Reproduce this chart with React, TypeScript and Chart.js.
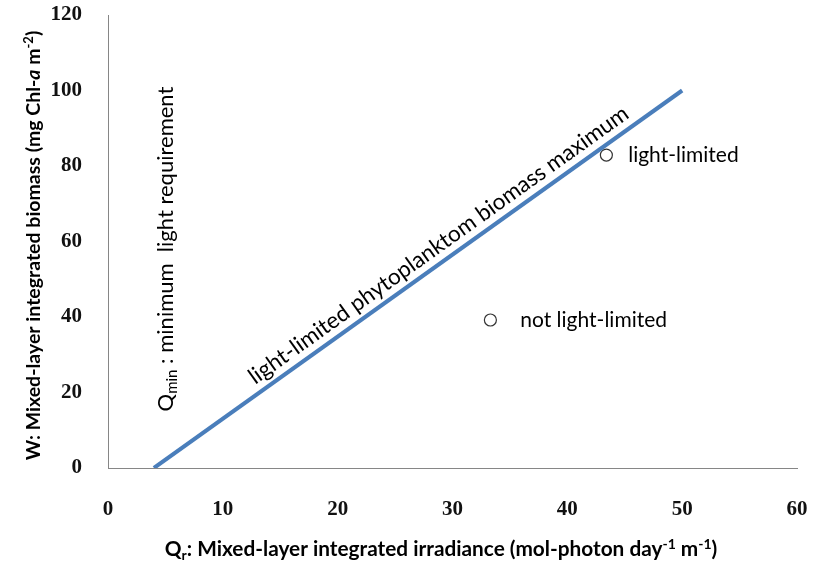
import React, { useEffect, useRef } from "react";
import { Chart, registerables } from "chart.js";

Chart.register(...registerables);

// ---- data ----
const X_TICKS = [0, 10, 20, 30, 40, 50, 60];
const Y_TICKS = [0, 20, 40, 60, 80, 100, 120];
const LINE_X = [4, 50];
const LINE_Y = [0, 100];
const POINT_X = [43.4, 33.3];
const POINT_Y = [82.9, 39.2];
const POINT_LABELS = ["light-limited", "not light-limited"];
const POINT_LABEL_X = [45.3, 35.9];
const POINT_LABEL_Y = [82.9, 39.2];
const LINE_LABEL = "light-limited phytoplanktom biomass maximum";
const LINE_LABEL_POS = [28.8, 59];
const QMIN_TEXT = ["Q", "min", " : minimum  light requirement"];
const QMIN_POS = [4.95, 58];

const BLUE = "#4a7ebb";
const AXIS = "#868686";
const SANS = "Lato, 'Open Sans', sans-serif";
const SERIF = "'Liberation Serif', serif";

type Run = { t: string; font: string; dy?: number };

function drawRuns(ctx: CanvasRenderingContext2D, runs: Run[], cx: number, cy: number, rot: number, baseOff: number) {
  ctx.save();
  let w = 0;
  for (const r of runs) {
    ctx.font = r.font;
    w += ctx.measureText(r.t).width;
  }
  ctx.translate(cx, cy);
  ctx.rotate(rot);
  ctx.textBaseline = "alphabetic";
  ctx.textAlign = "left";
  ctx.fillStyle = "#000";
  let x = -w / 2;
  for (const r of runs) {
    ctx.font = r.font;
    ctx.fillText(r.t, x, baseOff + (r.dy || 0));
    x += ctx.measureText(r.t).width;
  }
  ctx.restore();
}

const annotations = {
  id: "annotations",
  afterDatasetsDraw(chart: any) {
    const ctx: CanvasRenderingContext2D = chart.ctx;
    const xs = chart.scales.x;
    const ys = chart.scales.y;
    const area = chart.chartArea;

    // point labels
    ctx.save();
    ctx.font = `21px ${SANS}`;
    ctx.fillStyle = "#000";
    ctx.textAlign = "left";
    ctx.textBaseline = "middle";
    POINT_LABELS.forEach((t, i) => {
      ctx.fillText(t, xs.getPixelForValue(POINT_LABEL_X[i]), ys.getPixelForValue(POINT_LABEL_Y[i]));
    });
    ctx.restore();

    // line label, rotated to the line's angle
    const x0 = xs.getPixelForValue(LINE_X[0]);
    const y0 = ys.getPixelForValue(LINE_Y[0]);
    const x1 = xs.getPixelForValue(LINE_X[1]);
    const y1 = ys.getPixelForValue(LINE_Y[1]);
    const ang = Math.atan2(y1 - y0, x1 - x0);
    drawRuns(
      ctx,
      [{ t: LINE_LABEL, font: `22.5px ${SANS}` }],
      xs.getPixelForValue(LINE_LABEL_POS[0]),
      ys.getPixelForValue(LINE_LABEL_POS[1]),
      ang,
      7
    );

    // Qmin label
    drawRuns(
      ctx,
      [
        { t: QMIN_TEXT[0], font: `22px ${SANS}` },
        { t: QMIN_TEXT[1], font: `15px ${SANS}`, dy: 4 },
        { t: QMIN_TEXT[2], font: `22px ${SANS}` },
      ],
      xs.getPixelForValue(QMIN_POS[0]),
      ys.getPixelForValue(QMIN_POS[1]),
      -Math.PI / 2,
      8
    );

    // axis titles
    drawRuns(
      ctx,
      [
        { t: "W: Mixed-layer integrated biomass (mg Chl-", font: `bold 19.5px ${SANS}` },
        { t: "a", font: `italic bold 19.5px ${SANS}` },
        { t: " m", font: `bold 19.5px ${SANS}` },
        { t: "-2", font: `bold 13px ${SANS}`, dy: -7 },
        { t: ")", font: `bold 19.5px ${SANS}` },
      ],
      33,
      (area.top + area.bottom) / 2 + 4,
      -Math.PI / 2,
      7
    );
    const B = `bold 20.8px ${SANS}`;
    const BS = `bold 14px ${SANS}`;
    drawRuns(
      ctx,
      [
        { t: "Q", font: B },
        { t: "r", font: BS, dy: 4 },
        { t: ": Mixed-layer integrated irradiance (mol-photon day", font: B },
        { t: "-1", font: BS, dy: -7 },
        { t: " m", font: B },
        { t: "-1", font: BS, dy: -7 },
        { t: ")", font: B },
      ],
      441,
      549,
      0,
      7
    );
  },
};

export default function App() {
  const ref = useRef<HTMLCanvasElement | null>(null);
  useEffect(() => {
    if (!ref.current) return;
    const chart = new Chart(ref.current, {
      type: "scatter",
      data: {
        datasets: [
          {
            label: "max",
            data: LINE_X.map((x, i) => ({ x, y: LINE_Y[i] })),
            showLine: true,
            borderColor: BLUE,
            borderWidth: 4,
            pointRadius: 0,
            fill: false,
          },
          {
            label: "obs",
            data: POINT_X.map((x, i) => ({ x, y: POINT_Y[i] })),
            showLine: false,
            pointStyle: "circle",
            pointRadius: 6,
            backgroundColor: "#ffffff",
            borderColor: "#333333",
            borderWidth: 1.2,
          },
        ],
      },
      options: {
        animation: false,
        responsive: false,
        layout: { padding: { left: 0, right: 16, top: 15, bottom: 0 } },
        plugins: { legend: { display: false }, tooltip: { enabled: false } },
        scales: {
          x: {
            type: "linear",
            min: 0,
            max: 60,
            afterBuildTicks: (s: any) => {
              s.ticks = X_TICKS.map((v) => ({ value: v }));
            },
            afterFit: (s: any) => {
              s.height = 96;
              s.paddingLeft = 0;
              s.paddingRight = 0;
            },
            grid: { display: false, drawTicks: false },
            border: { display: true, color: AXIS, width: 1 },
            ticks: { padding: 29, color: "#111", font: { family: SERIF, size: 21, weight: "bold" }, maxRotation: 0 },
          },
          y: {
            type: "linear",
            min: 0,
            max: 120,
            afterBuildTicks: (s: any) => {
              s.ticks = Y_TICKS.map((v) => ({ value: v }));
            },
            afterFit: (s: any) => {
              s.width = 108;
              s.paddingTop = 0;
              s.paddingBottom = 0;
            },
            grid: { display: false, drawTicks: false },
            border: { display: true, color: AXIS, width: 1 },
            ticks: { padding: 26, color: "#111", font: { family: SERIF, size: 21, weight: "bold" } },
          },
        },
      },
      plugins: [annotations],
    });
    return () => chart.destroy();
  }, []);
  return (
    <div style={{ position: "absolute", left: 0, top: 0, width: 813, height: 564, background: "#fff" }}>
      <canvas ref={ref} width={813} height={564} />
    </div>
  );
}
